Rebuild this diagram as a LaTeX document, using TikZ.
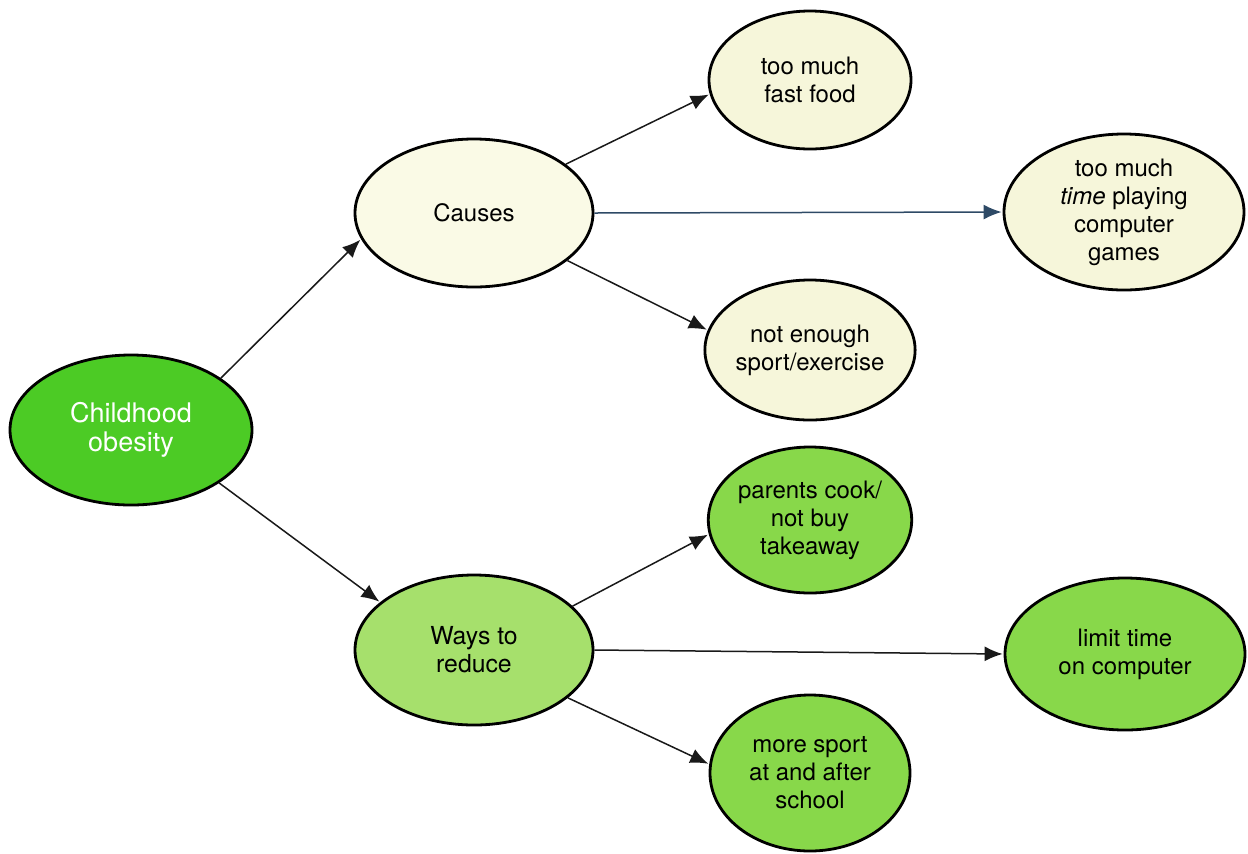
\documentclass[tikz,border=0pt]{standalone}
\usepackage{fontspec}
\setmainfont{TeX Gyre Heros}
\usetikzlibrary{shapes.geometric,arrows.meta}

\definecolor{rootgreen}{HTML}{4CCB25}
\definecolor{midgreen}{HTML}{A6E06C}
\definecolor{leafgreen}{HTML}{88D84A}
\definecolor{midcream}{HTML}{FAFAE6}
\definecolor{leafcream}{HTML}{F6F6DA}
\definecolor{linkblue}{HTML}{2E4A66}

\tikzset{
  bubble/.style={ellipse, draw=black, line width=1.4pt, inner sep=0pt,
    align=center, font=\fontsize{12}{14}\selectfont},
  link/.style={draw=black!90, line width=0.75pt,
    -{Latex[length=9pt,width=7.5pt]}, shorten >=0.5pt}
}

\begin{document}
\begin{tikzpicture}[x=0.5pt, y=-0.5pt]
  \useasboundingbox (0,0) rectangle (1248,853);

  % root
  \node[bubble, fill=rootgreen, text=white, minimum width=121pt, minimum height=75pt,
        font=\fontsize{13.5}{14.5}\selectfont]
    (root) at (131,430) {Childhood\\obesity};

  % second level
  \node[bubble, fill=midcream, minimum width=119pt, minimum height=74pt]
    (causes) at (474,213) {Causes};
  \node[bubble, fill=midgreen, minimum width=119pt, minimum height=75pt,
        font=\fontsize{12.4}{14}\selectfont]
    (ways) at (474,650) {Ways to\\reduce};

  % causes
  \node[bubble, fill=leafcream, minimum width=101pt, minimum height=69pt]
    (fast) at (810,80) {too much\\fast food};
  \node[bubble, fill=leafcream, minimum width=120pt, minimum height=78pt]
    (games) at (1124,212) {too much\\\textit{time} playing\\computer\\games};
  \node[bubble, fill=leafcream, minimum width=101pt, minimum height=70pt]
    (sport) at (810,350) {not enough\\sport/exercise};

  % ways to reduce
  \node[bubble, fill=leafgreen, minimum width=100pt, minimum height=73pt]
    (cook) at (810,520) {parents cook/\\not buy\\takeaway};
  \node[bubble, fill=leafgreen, minimum width=120pt, minimum height=76pt]
    (limit) at (1125,654) {limit time\\on computer};
  \node[bubble, fill=leafgreen, minimum width=100pt, minimum height=78pt]
    (more) at (810,773) {more sport\\at and after\\school};

  % connectors
  \draw[link] (root.30) -- (causes.193);
  \draw[link] (root.-31) -- (ways.153);
  \draw[link] (causes.28) -- (fast.188);
  \draw[link, draw=linkblue] (causes.east) -- (games.west);
  \draw[link] (causes.-27) -- (sport.169);
  \draw[link] (ways.24) -- (cook.188);
  \draw[link] (ways.east) -- (limit.west);
  \draw[link] (ways.-27) -- (more.175);
\end{tikzpicture}
\end{document}
